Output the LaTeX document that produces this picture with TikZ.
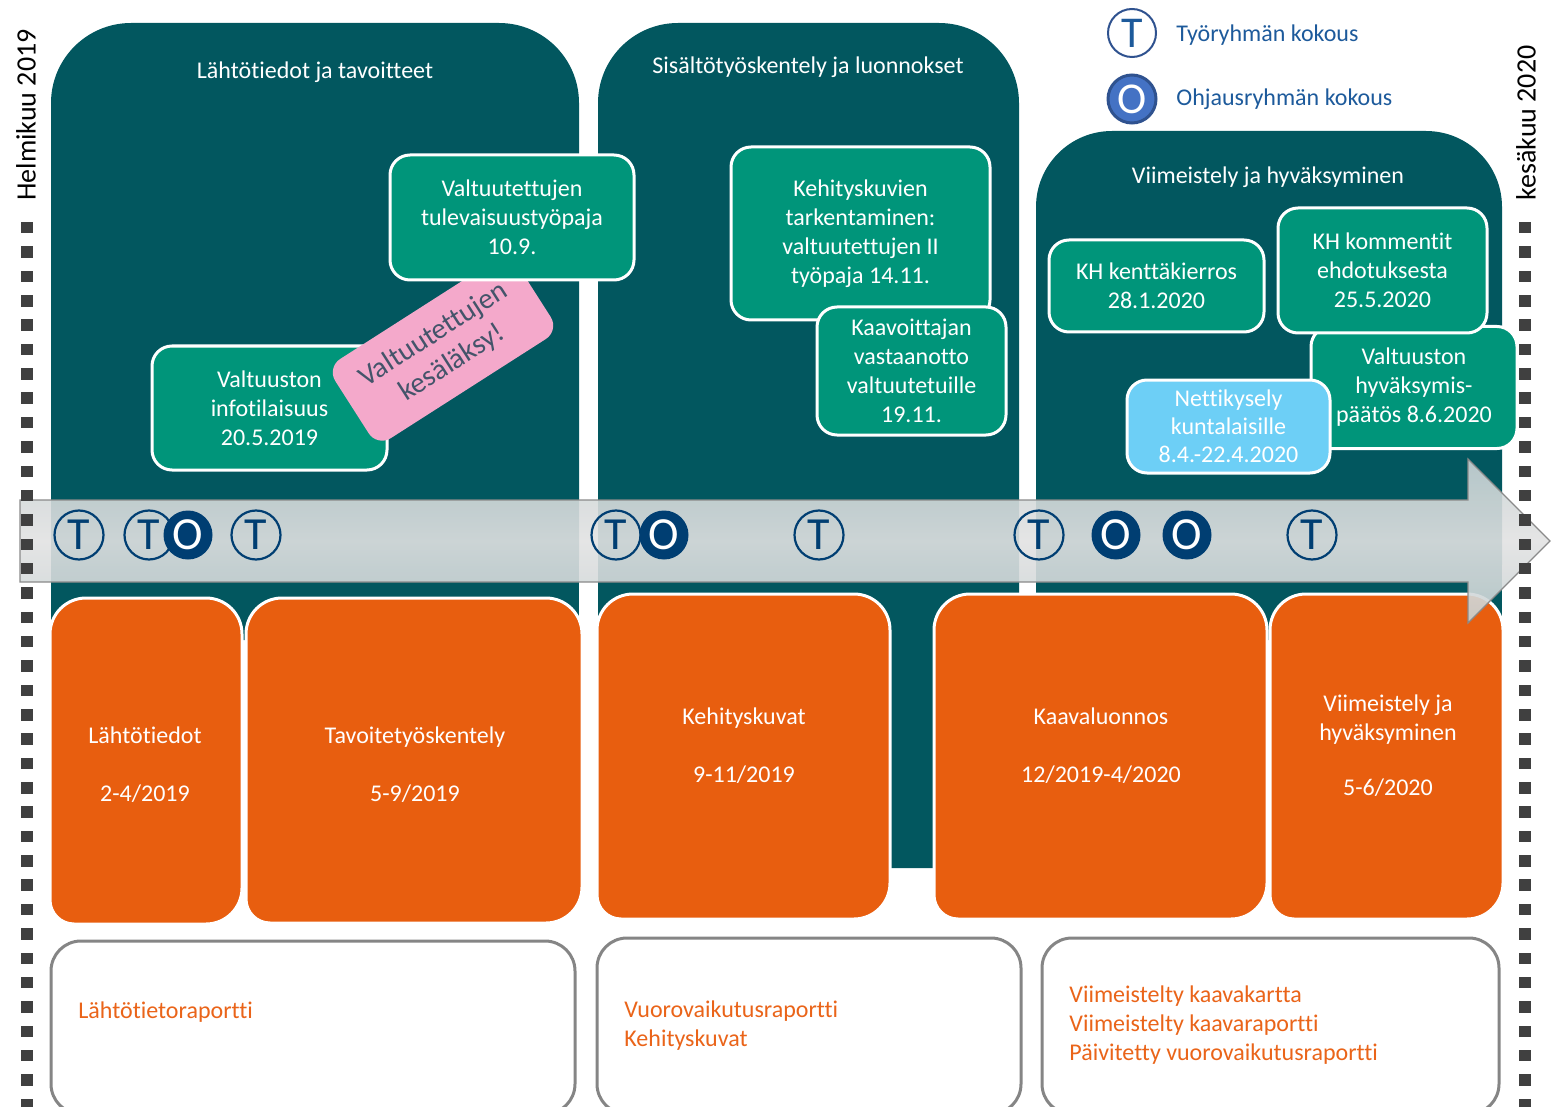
\documentclass[tikz,border=0pt]{standalone}
\usepackage{fontspec}
\setmainfont{Carlito}[Ligatures=NoCommon]
\usetikzlibrary{positioning}
\definecolor{panelTeal}{HTML}{02575F}
\definecolor{eventGreen}{HTML}{00957A}
\definecolor{surveyBlue}{HTML}{6DCFF6}
\definecolor{notePink}{HTML}{F4A9CB}
\definecolor{noteSlate}{HTML}{44546A}
\definecolor{phaseOrange}{HTML}{E85E0F}
\definecolor{reportGray}{HTML}{858585}
\definecolor{reportOrange}{HTML}{EA6419}
\definecolor{meetNavy}{HTML}{003E72}
\definecolor{legendBlue}{HTML}{1D5A9B}
\definecolor{legendFill}{HTML}{4472C4}
\definecolor{legendEdge}{HTML}{2F528F}
\definecolor{arrowSide}{HTML}{C9D3D5}
\definecolor{arrowMid}{HTML}{E2E2E2}
\definecolor{arrowEdge}{HTML}{8A8A8A}
\definecolor{tickGray}{HTML}{404040}

\begin{document}
\begin{tikzpicture}[x=0.5pt,y=-0.5pt]

          \tikzstyle{panel} = [fill=panelTeal];
          \tikzstyle{panelTitle} = [text=white, font=\fontsize{12}{14.5}\selectfont];
          \tikzstyle{eventNode} = [draw=white, line width=1.5pt, fill=eventGreen, rounded corners=10pt, text=white, align=center, inner sep=0pt, font=\fontsize{12}{14.5}\selectfont];
          \tikzstyle{surveyNode} = [eventNode, fill=surveyBlue, font=\fontsize{12}{14}\selectfont];
          \tikzstyle{noteNode} = [fill=notePink, rounded corners=8pt, text=noteSlate, align=center, inner sep=0pt, font=\fontsize{14.5}{17}\selectfont];
          \tikzstyle{phaseBox} = [fill=phaseOrange, draw=white, line width=1.5pt];
          \tikzstyle{phaseText} = [text=white, align=center, font=\fontsize{12}{14.5}\selectfont];
          \tikzstyle{reportBox} = [draw=reportGray, line width=1.5pt, fill=white, rounded corners=15pt];
          \tikzstyle{reportText} = [text=reportOrange, align=left, anchor=west, inner sep=0pt, font=\fontsize{12}{14.5}\selectfont];
          \tikzstyle{arrowBand} = [draw=arrowEdge, line width=0.6pt, top color=arrowSide, bottom color=arrowSide, middle color=arrowMid, fill opacity=0.9];
          \tikzstyle{workMeet} = [circle, draw=meetNavy, line width=1.1pt, minimum size=24.5pt, inner sep=0pt, text=meetNavy, font=\fontsize{23}{23}\selectfont];
          \tikzstyle{steerMeet} = [circle, fill=meetNavy, minimum size=24.5pt, inner sep=0pt, text=white, font=\fontsize{23}{23}\selectfont];
          \tikzstyle{tick} = [fill=tickGray];
          \tikzstyle{sideLabel} = [rotate=90, font=\fontsize{14}{14}\selectfont];
          \tikzstyle{legendText} = [anchor=west, inner sep=0pt, text=legendBlue, font=\fontsize{12}{14.5}\selectfont];

          \useasboundingbox (0,0) rectangle (1553,1107);
          \clip (0,0) rectangle (1553,1107);

          % phases in the background
          \fill[panel, rounded corners=40pt] (51,640) -- (51,23) -- (579,23) -- (579,640) -- cycle;
          \fill[panel] (51,300) rectangle (579,640);
          \fill[panel, rounded corners=40pt] (598,868) -- (598,23) -- (1019,23) -- (1019,868) -- cycle;
          \fill[panel] (598,300) rectangle (1019,868);
          \fill[panel, rounded corners=38pt] (1036,640) -- (1036,131) -- (1502,131) -- (1502,640) -- cycle;
          \fill[panel] (1036,350) rectangle (1502,640);

          \node[panelTitle] (startTitle) at (315,72) {Lähtötiedot ja tavoitteet};
          \node[panelTitle] (draftTitle) at (808,67) {Sisältötyöskentely ja luonnokset};
          \node[panelTitle] (finalTitle) at (1268,177) {Viimeistely ja hyväksyminen};

          % events
          \node[eventNode, minimum width=117.5pt, minimum height=62pt] (infoEvent) at (269.5,408) {Valtuuston\\infotilaisuus\\20.5.2019};
          \node[noteNode, rotate=32.6, minimum width=108pt, minimum height=47pt] (summerNote) at (443,349) {Valtuutettujen\\kesäläksy!};
          \node[eventNode, minimum width=122pt, minimum height=62.5pt] (futureEvent) at (512,217.5) {Valtuutettujen\\tulevaisuustyöpaja\\10.9.};
          \node[eventNode, minimum width=129.5pt, minimum height=86.5pt] (sketchEvent) at (860.5,233.5) {Kehityskuvien\\tarkentaminen:\\valtuutettujen II\\työpaja 14.11.};
          \node[eventNode, minimum width=94.5pt, minimum height=64pt] (receptionEvent) at (911.5,371) {Kaavoittajan\\vastaanotto\\valtuutetuille\\19.11.};
          \node[eventNode, minimum width=103pt, minimum height=61pt] (decisionEvent) at (1414,387.5) {Valtuuston\\hyväksymis-\\päätös 8.6.2020};
          \node[eventNode, minimum width=104.5pt, minimum height=62.5pt] (commentEvent) at (1382.5,270.5) {KH kommentit\\ehdotuksesta\\25.5.2020};
          \node[eventNode, minimum width=107.5pt, minimum height=46pt] (tourEvent) at (1156.5,286) {KH kenttäkierros\\28.1.2020};
          \node[surveyNode, minimum width=101.5pt, minimum height=46.5pt] (surveyEvent) at (1228.5,426.5) {Nettikysely\\kuntalaisille\\8.4.-22.4.2020};

          % work phases
          \draw[phaseBox] (50,760) [rounded corners=18pt] -- (50,598) -- (242,598) -- (242,924) [rounded corners=12pt] -- (50,924) -- cycle;
          \draw[phaseBox] (246,760) [rounded corners=18pt] -- (246,598) -- (582,598) -- (582,923) [rounded corners=12pt] -- (246,923) -- cycle;
          \draw[phaseBox] (597,760) [rounded corners=18pt] -- (597,594) -- (890,594) -- (890,919) [rounded corners=12pt] -- (597,919) -- cycle;
          \draw[phaseBox] (934,760) [rounded corners=18pt] -- (934,594) -- (1267,594) -- (1267,919) [rounded corners=12pt] -- (934,919) -- cycle;
          \draw[phaseBox] (1270,760) [rounded corners=18pt] -- (1270,594) -- (1503,594) -- (1503,919) [rounded corners=12pt] -- (1270,919) -- cycle;

          \node[phaseText] (startPhase) at (145,764.5) {Lähtötiedot\\[14.5pt]2-4/2019};
          \node[phaseText] (goalPhase) at (415,764.5) {Tavoitetyöskentely\\[14.5pt]5-9/2019};
          \node[phaseText] (sketchPhase) at (744,745.5) {Kehityskuvat\\[14.5pt]9-11/2019};
          \node[phaseText] (draftPhase) at (1101,745.5) {Kaavaluonnos\\[14.5pt]12/2019-4/2020};
          \node[phaseText] (finalPhase) at (1388,745.5) {Viimeistely ja\\hyväksyminen\\[13pt]5-6/2020};

          % time line
          \draw[arrowBand] (20,500) -- (1468,500) -- (1468,459) -- (1550,541) -- (1468,623) -- (1468,582) -- (20,582) -- cycle;

          \node[workMeet] (t1) at (79,535) {T};
          \node[workMeet] (t2) at (149,535) {T};
          \node[steerMeet] (o1) at (188,535) {O};
          \node[workMeet] (t3) at (256,535) {T};
          \node[workMeet] (t4) at (616,535) {T};
          \node[steerMeet] (o2) at (664,535) {O};
          \node[workMeet] (t5) at (819,535) {T};
          \node[workMeet] (t6) at (1039,535) {T};
          \node[steerMeet] (o3) at (1116,535) {O};
          \node[steerMeet] (o4) at (1187,535) {O};
          \node[workMeet] (t7) at (1312,535) {T};

          % reports
          \draw[reportBox] (51,1114) rectangle (575,941);
          \draw[reportBox] (597,1114) rectangle (1021,938);
          \draw[reportBox] (1042,1114) rectangle (1499,938);

          \node[reportText] (startReport) at (78,1012) {Lähtötietoraportti};
          \node[reportText] (draftReport) at (624,1025.5) {Vuorovaikutusraportti\\Kehityskuvat};
          \node[reportText] (finalReport) at (1069,1025) {Viimeistelty kaavakartta\\Viimeistelty kaavaraportti\\Päivitetty vuorovaikutusraportti};

          % start and end of the schedule
          \foreach \i in {0,...,36} {
            \fill[tick] (21,{222+24.35*\i}) rectangle +(11.5,11.5);
            \fill[tick] (1519,{222+24.35*\i}) rectangle +(11.5,11.5);
          }
          \node[sideLabel] (startLabel) at (26,115) {Helmikuu 2019};
          \node[sideLabel] (endLabel) at (1526,123) {kesäkuu 2020};

          % legend
          \node[circle, draw=legendEdge, line width=1pt, minimum size=24pt, inner sep=0pt, text=legendBlue, font=\fontsize{22}{22}\selectfont] (legendWork) at (1132,33) {T};
          \node[circle, fill=legendFill, draw=legendEdge, line width=1.5pt, minimum size=24pt, inner sep=0pt, text=white, font=\fontsize{22}{22}\selectfont] (legendSteer) at (1132,99) {O};
          \node[legendText] (legendWorkText) at (1176,35) {Työryhmän kokous};
          \node[legendText] (legendSteerText) at (1176,99) {Ohjausryhmän kokous};
        \end{tikzpicture}
\end{document}
